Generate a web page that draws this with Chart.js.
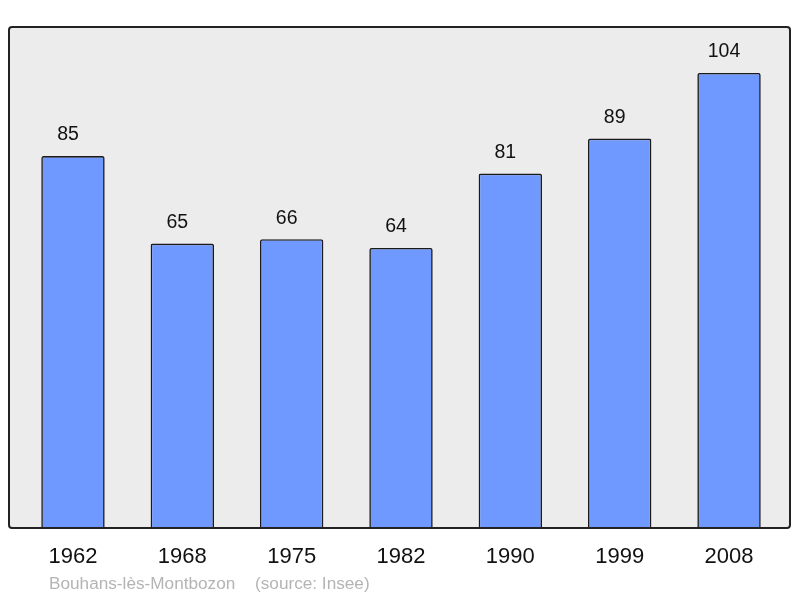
<!DOCTYPE html>
<html>
<head>
<meta charset="utf-8">
<script src="https://cdn.jsdelivr.net/npm/chart.js@4/dist/chart.umd.min.js"></script>
<style>
html,body{margin:0;padding:0;background:#fff;}
#wrap{width:800px;height:598px;position:relative;}
</style>
</head>
<body>
<div id="wrap"><canvas id="c" width="800" height="598"></canvas></div>
<script>
const years = ["1962","1968","1975","1982","1990","1999","2008"];
const population = [85,65,66,64,81,89,104];
const townName = "Bouhans-lès-Montbozon";
const sourceText = "(source: Insee)";

const FONT = "'Liberation Sans', Arial, sans-serif";

function framePath(ctx) {
  const x0 = 9, y0 = 27, x1 = 790, y1 = 528, r = 3;
  ctx.beginPath();
  ctx.moveTo(x0 + r, y0);
  ctx.lineTo(x1 - r, y0);
  ctx.quadraticCurveTo(x1, y0, x1, y0 + r);
  ctx.lineTo(x1, y1 - r);
  ctx.quadraticCurveTo(x1, y1, x1 - r, y1);
  ctx.lineTo(x0 + r, y1);
  ctx.quadraticCurveTo(x0, y1, x0, y1 - r);
  ctx.lineTo(x0, y0 + r);
  ctx.quadraticCurveTo(x0, y0, x0 + r, y0);
  ctx.closePath();
}

const framePlugin = {
  id: 'frame',
  beforeDraw(chart) {
    const ctx = chart.ctx;
    ctx.save();
    framePath(ctx);
    ctx.fillStyle = '#ececec';
    ctx.fill();
    ctx.restore();
  },
  afterDatasetsDraw(chart) {
    const ctx = chart.ctx;
    ctx.save();
    framePath(ctx);
    ctx.lineWidth = 2;
    ctx.strokeStyle = '#222';
    ctx.stroke();

    // value labels
    const meta = chart.getDatasetMeta(0);
    ctx.fillStyle = '#111';
    ctx.font = '19.5px ' + FONT;
    ctx.textAlign = 'center';
    ctx.textBaseline = 'middle';
    meta.data.forEach((bar, i) => {
      ctx.fillText(String(population[i]), bar.x - 5, bar.y - 21);
    });

    // source line
    ctx.fillStyle = '#b4b4b4';
    ctx.font = '17.2px ' + FONT;
    ctx.textAlign = 'left';
    ctx.textBaseline = 'middle';
    ctx.fillText(townName, 49, 584);
    ctx.fillText(sourceText, 255, 584);
    ctx.restore();
  }
};

new Chart(document.getElementById('c'), {
  type: 'bar',
  data: {
    labels: years,
    datasets: [{
      data: population,
      backgroundColor: '#7099ff',
      borderColor: '#1a1a1a',
      borderWidth: 1.6,
      borderRadius: 2,
      borderSkipped: 'bottom',
      barPercentage: 0.58,
      categoryPercentage: 1.0
    }]
  },
  options: {
    responsive: false,
    animation: false,
    devicePixelRatio: 1,
    layout: { padding: { left: 18.3, right: 16.3, top: 27, bottom: 0 } },
    plugins: { legend: { display: false }, tooltip: { enabled: false } },
    scales: {
      x: {
        grid: { display: false, drawTicks: false },
        border: { display: false },
        ticks: { color: '#111', font: { family: FONT, size: 22 }, padding: 16, maxRotation: 0 },
        afterFit(scale) { scale.height = 70; }
      },
      y: {
        display: false,
        min: 0,
        max: 114.5
      }
    }
  },
  plugins: [framePlugin]
});
</script>
</body>
</html>
